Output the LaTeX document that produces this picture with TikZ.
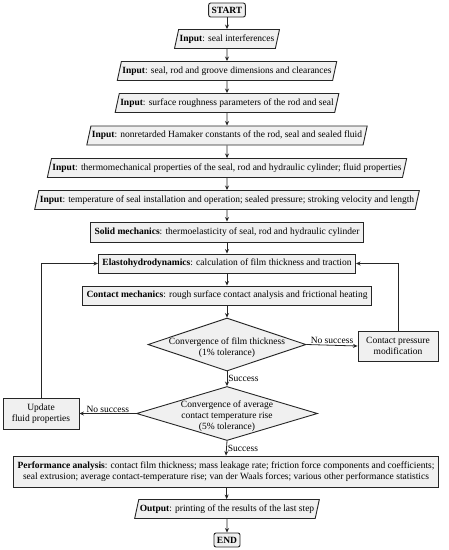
\documentclass[tikz,border=0pt]{standalone}
\usepackage{fontspec}
\setmainfont{Liberation Serif}
\usetikzlibrary{positioning, arrows.meta, shapes}

\begin{document}
\begin{tikzpicture}[x=1pt, y=-1pt, font=\fontsize{9.5}{11}\selectfont,
    box/.style={draw=black!85, fill=black!6, line width=0.9pt, minimum height=20pt, inner xsep=4pt},
    inbox/.style={box, trapezium, trapezium left angle=75, trapezium right angle=105,
        trapezium stretches=true, minimum height=19pt, inner xsep=1pt},
    term/.style={box, rounded corners=2pt, minimum height=14pt, inner xsep=3pt, font=\fontsize{9.5}{11}\selectfont\bfseries},
    decision/.style={box, diamond, inner sep=0pt},
    flow/.style={draw=black!85, line width=0.8pt, -{Stealth[length=4.5pt,width=4pt]}},
    lbl/.style={inner sep=1pt}]

    \useasboundingbox (0,0) rectangle (449,550);

    % inputs
    \node[term] (start) at (227,10) {START};
    \node[inbox] (in1) at (227,39) {\textbf{Input}: seal interferences};
    \node[inbox] (in2) at (227,71) {\textbf{Input}: seal, rod and groove dimensions and clearances};
    \node[inbox] (in3) at (227,103) {\textbf{Input}: surface roughness parameters of the rod and seal};
    \node[inbox] (in4) at (227,135.5) {\textbf{Input}: nonretarded Hamaker constants of the rod, seal and sealed fluid};
    \node[inbox] (in5) at (227,168) {\textbf{Input}: thermomechanical properties of the seal, rod and hydraulic cylinder; fluid properties};
    \node[inbox] (in6) at (227,200) {\textbf{Input}: temperature of seal installation and operation; sealed pressure; stroking velocity and length};

    % solver
    \node[box] (solid) at (227,232) {\textbf{Solid mechanics}: thermoelasticity of seal, rod and hydraulic cylinder};
    \node[box, minimum height=19pt] (elasto) at (227,263.5) {\textbf{Elastohydrodynamics}: calculation of film thickness and traction};
    \node[box, minimum height=19pt] (contact) at (227,295.5) {\textbf{Contact mechanics}: rough surface contact analysis and frictional heating};
    \node[decision, minimum width=158pt, minimum height=53pt,
        label={[align=center, yshift=-3pt]center:Convergence of film thickness\\(1\% tolerance)}] (conv1) at (227,344.5) {};
    \node[box, align=center, minimum width=80pt, minimum height=30pt] (press) at (398,346) {Contact pressure\\modification};
    \node[decision, minimum width=181pt, minimum height=54pt,
        label={[align=center, yshift=-3pt]center:Convergence of average\\contact temperature rise\\(5\% tolerance)}] (conv2) at (227,413.5) {};
    \node[box, align=center, minimum width=76pt, minimum height=31pt] (update) at (41,413.5) {Update\\fluid properties};

    % results
    \node[box, align=center, minimum height=31pt, inner ysep=2pt] (perf) at (226,471.5) {\textbf{Performance analysis}: contact film thickness; mass leakage rate; friction force components and coefficients;\\seal extrusion; average contact-temperature rise; van der Waals forces; various other performance statistics};
    \node[inbox] (out) at (227,509) {\textbf{Output}: printing of the results of the last step};
    \node[term] (end) at (227,540) {END};

    \draw[flow] (start) -- (in1);
    \draw[flow] (in1) -- (in2);
    \draw[flow] (in2) -- (in3);
    \draw[flow] (in3) -- (in4);
    \draw[flow] (in4) -- (in5);
    \draw[flow] (in5) -- (in6);
    \draw[flow] (in6) -- (solid);
    \draw[flow] (solid) -- (elasto);
    \draw[flow] (elasto) -- (contact);
    \draw[flow] (contact) -- (conv1);
    \draw[flow] (conv1.east) -- node[lbl, above] {No success} (press.west);
    \draw[flow] (press.north) |- (elasto.east);
    \draw[flow] (conv1.south) -- node[lbl, right] {Success} (conv2.north);
    \draw[flow] (conv2.west) -- node[lbl, above] {No success} (update.east);
    \draw[flow] (update.north) |- (elasto.west);
    \draw[flow] (conv2.south) -- node[lbl, right] {Success} (perf.north);
    \draw[flow] (perf) -- (out);
    \draw[flow] (out) -- (end);
\end{tikzpicture}
\end{document}
